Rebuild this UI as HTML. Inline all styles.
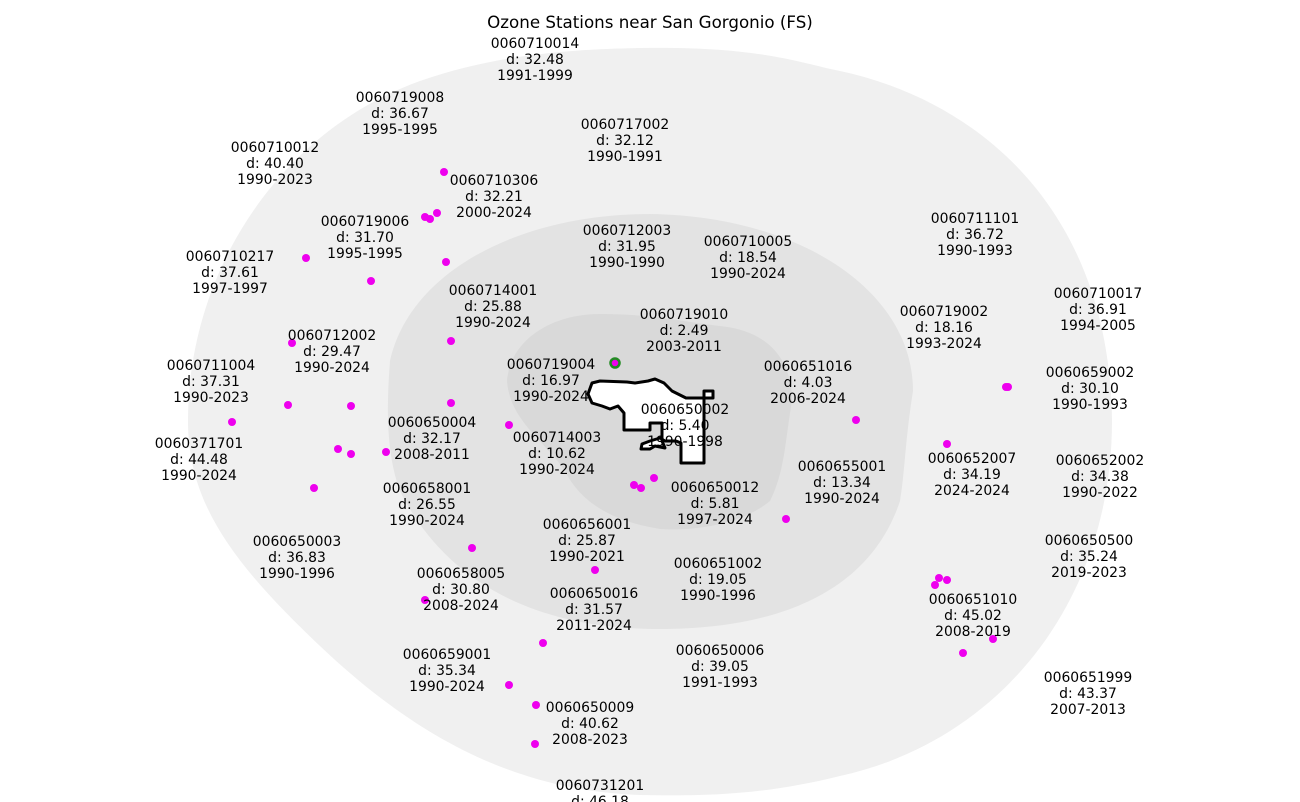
<!DOCTYPE html>
<html><head><meta charset="utf-8"><style>
html,body{margin:0;padding:0;background:#fff;}
svg{display:block;}
text{font-family:"DejaVu Sans","Liberation Sans",sans-serif;font-size:13.9px;fill:#000;text-anchor:middle;}
</style></head><body>
<svg width="1300" height="802" viewBox="0 0 1300 802" xmlns="http://www.w3.org/2000/svg">
<text x="650" y="28" style="font-size:16.7px">Ozone Stations near San Gorgonio (FS)</text>
<g transform="translate(0,1)">
<path d="M640,47 C760,45 800,62 840,70 C980,100 1110,210 1112,420 C1112,600 1000,740 840,775 C760,795 700,795 640,794 C520,790 420,740 320,645 C230,560 188,500 188,420 C188,270 280,130 420,80 C500,52 580,48 640,47 Z" fill="#f0f0f0"/>
<path d="M650,213 C800,215 913,290 913,390 C905,440 905,470 900,500 C870,590 780,628 660,628 C520,628 440,570 400,490 C385,450 387,400 390,360 C410,270 520,213 650,213 Z" fill="#e3e3e3"/>
<path d="M600,313 C650,313 680,320 720,325 C770,330 792,360 792,400 C785,440 785,470 770,500 C740,525 690,530 660,528 C610,520 580,500 565,470 C545,440 510,420 507,380 C510,340 550,313 600,313 Z" fill="#d9d9d9"/>
<path d="M588,393 L592,382 L600,380 L627,381 L635,382 L648,380 L655,378 L664,382 L672,390 L686,397 L704,397 L704,390 L713,390 L713,397 L704,397 L704,462 L681,462 L681,442 L676,440 L665,440 L660,437 L650,440 L642,443 L641,448 L650,448 L655,445 L665,447 L662,440 L662,422 L650,422 L650,429 L624,429 L624,412 L618,405 L610,408 L602,405 L592,402 Z" fill="#fff" stroke="#000" stroke-width="3" stroke-linejoin="round"/>
<g fill="#ee00ee">
<circle cx="444" cy="171" r="4"/><circle cx="437" cy="212" r="4"/><circle cx="425" cy="216" r="4"/><circle cx="430" cy="218" r="4"/><circle cx="446" cy="261" r="4"/><circle cx="306" cy="257" r="4"/><circle cx="371" cy="280" r="4"/><circle cx="451" cy="340" r="4"/><circle cx="292" cy="342" r="4"/><circle cx="288" cy="404" r="4"/><circle cx="351" cy="405" r="4"/><circle cx="451" cy="402" r="4"/><circle cx="232" cy="421" r="4"/><circle cx="338" cy="448" r="4"/><circle cx="351" cy="453" r="4"/><circle cx="386" cy="451" r="4"/><circle cx="509" cy="424" r="4"/><circle cx="314" cy="487" r="4"/><circle cx="634" cy="484" r="4"/><circle cx="641" cy="487" r="4"/><circle cx="654" cy="477" r="4"/><circle cx="856" cy="419" r="4"/><circle cx="947" cy="443" r="4"/><circle cx="1006" cy="386" r="4"/><circle cx="1008" cy="386" r="4"/><circle cx="786" cy="518" r="4"/><circle cx="472" cy="547" r="4"/><circle cx="595" cy="569" r="4"/><circle cx="425" cy="599" r="4"/><circle cx="939" cy="577" r="4"/><circle cx="947" cy="579" r="4"/><circle cx="935" cy="584" r="4"/><circle cx="543" cy="642" r="4"/><circle cx="993" cy="638" r="4"/><circle cx="963" cy="652" r="4"/><circle cx="509" cy="684" r="4"/><circle cx="536" cy="704" r="4"/><circle cx="535" cy="743" r="4"/>
</g>
<circle cx="615" cy="362" r="4.5" fill="#ee00ee" stroke="#228b22" stroke-width="2.5"/>
<text x="535" y="47">0060710014</text><text x="535" y="63">d: 32.48</text><text x="535" y="79">1991-1999</text>
<text x="400" y="101">0060719008</text><text x="400" y="117">d: 36.67</text><text x="400" y="133">1995-1995</text>
<text x="275" y="151">0060710012</text><text x="275" y="167">d: 40.40</text><text x="275" y="183">1990-2023</text>
<text x="625" y="128">0060717002</text><text x="625" y="144">d: 32.12</text><text x="625" y="160">1990-1991</text>
<text x="494" y="184">0060710306</text><text x="494" y="200">d: 32.21</text><text x="494" y="216">2000-2024</text>
<text x="365" y="225">0060719006</text><text x="365" y="241">d: 31.70</text><text x="365" y="257">1995-1995</text>
<text x="627" y="234">0060712003</text><text x="627" y="250">d: 31.95</text><text x="627" y="266">1990-1990</text>
<text x="748" y="245">0060710005</text><text x="748" y="261">d: 18.54</text><text x="748" y="277">1990-2024</text>
<text x="975" y="222">0060711101</text><text x="975" y="238">d: 36.72</text><text x="975" y="254">1990-1993</text>
<text x="230" y="260">0060710217</text><text x="230" y="276">d: 37.61</text><text x="230" y="292">1997-1997</text>
<text x="493" y="294">0060714001</text><text x="493" y="310">d: 25.88</text><text x="493" y="326">1990-2024</text>
<text x="1098" y="297">0060710017</text><text x="1098" y="313">d: 36.91</text><text x="1098" y="329">1994-2005</text>
<text x="684" y="318">0060719010</text><text x="684" y="334">d: 2.49</text><text x="684" y="350">2003-2011</text>
<text x="944" y="315">0060719002</text><text x="944" y="331">d: 18.16</text><text x="944" y="347">1993-2024</text>
<text x="332" y="339">0060712002</text><text x="332" y="355">d: 29.47</text><text x="332" y="371">1990-2024</text>
<text x="211" y="369">0060711004</text><text x="211" y="385">d: 37.31</text><text x="211" y="401">1990-2023</text>
<text x="551" y="368">0060719004</text><text x="551" y="384">d: 16.97</text><text x="551" y="400">1990-2024</text>
<text x="808" y="370">0060651016</text><text x="808" y="386">d: 4.03</text><text x="808" y="402">2006-2024</text>
<text x="1090" y="376">0060659002</text><text x="1090" y="392">d: 30.10</text><text x="1090" y="408">1990-1993</text>
<text x="685" y="413">0060650002</text><text x="685" y="429">d: 5.40</text><text x="685" y="445">1990-1998</text>
<text x="432" y="426">0060650004</text><text x="432" y="442">d: 32.17</text><text x="432" y="458">2008-2011</text>
<text x="557" y="441">0060714003</text><text x="557" y="457">d: 10.62</text><text x="557" y="473">1990-2024</text>
<text x="199" y="447">0060371701</text><text x="199" y="463">d: 44.48</text><text x="199" y="479">1990-2024</text>
<text x="972" y="462">0060652007</text><text x="972" y="478">d: 34.19</text><text x="972" y="494">2024-2024</text>
<text x="1100" y="464">0060652002</text><text x="1100" y="480">d: 34.38</text><text x="1100" y="496">1990-2022</text>
<text x="842" y="470">0060655001</text><text x="842" y="486">d: 13.34</text><text x="842" y="502">1990-2024</text>
<text x="715" y="491">0060650012</text><text x="715" y="507">d: 5.81</text><text x="715" y="523">1997-2024</text>
<text x="427" y="492">0060658001</text><text x="427" y="508">d: 26.55</text><text x="427" y="524">1990-2024</text>
<text x="587" y="528">0060656001</text><text x="587" y="544">d: 25.87</text><text x="587" y="560">1990-2021</text>
<text x="297" y="545">0060650003</text><text x="297" y="561">d: 36.83</text><text x="297" y="577">1990-1996</text>
<text x="1089" y="544">0060650500</text><text x="1089" y="560">d: 35.24</text><text x="1089" y="576">2019-2023</text>
<text x="718" y="567">0060651002</text><text x="718" y="583">d: 19.05</text><text x="718" y="599">1990-1996</text>
<text x="461" y="577">0060658005</text><text x="461" y="593">d: 30.80</text><text x="461" y="609">2008-2024</text>
<text x="594" y="597">0060650016</text><text x="594" y="613">d: 31.57</text><text x="594" y="629">2011-2024</text>
<text x="973" y="603">0060651010</text><text x="973" y="619">d: 45.02</text><text x="973" y="635">2008-2019</text>
<text x="447" y="658">0060659001</text><text x="447" y="674">d: 35.34</text><text x="447" y="690">1990-2024</text>
<text x="720" y="654">0060650006</text><text x="720" y="670">d: 39.05</text><text x="720" y="686">1991-1993</text>
<text x="1088" y="681">0060651999</text><text x="1088" y="697">d: 43.37</text><text x="1088" y="713">2007-2013</text>
<text x="590" y="711">0060650009</text><text x="590" y="727">d: 40.62</text><text x="590" y="743">2008-2023</text>
<text x="600" y="789">0060731201</text><text x="600" y="805">d: 46.18</text>
</g>
</svg>
</body></html>
